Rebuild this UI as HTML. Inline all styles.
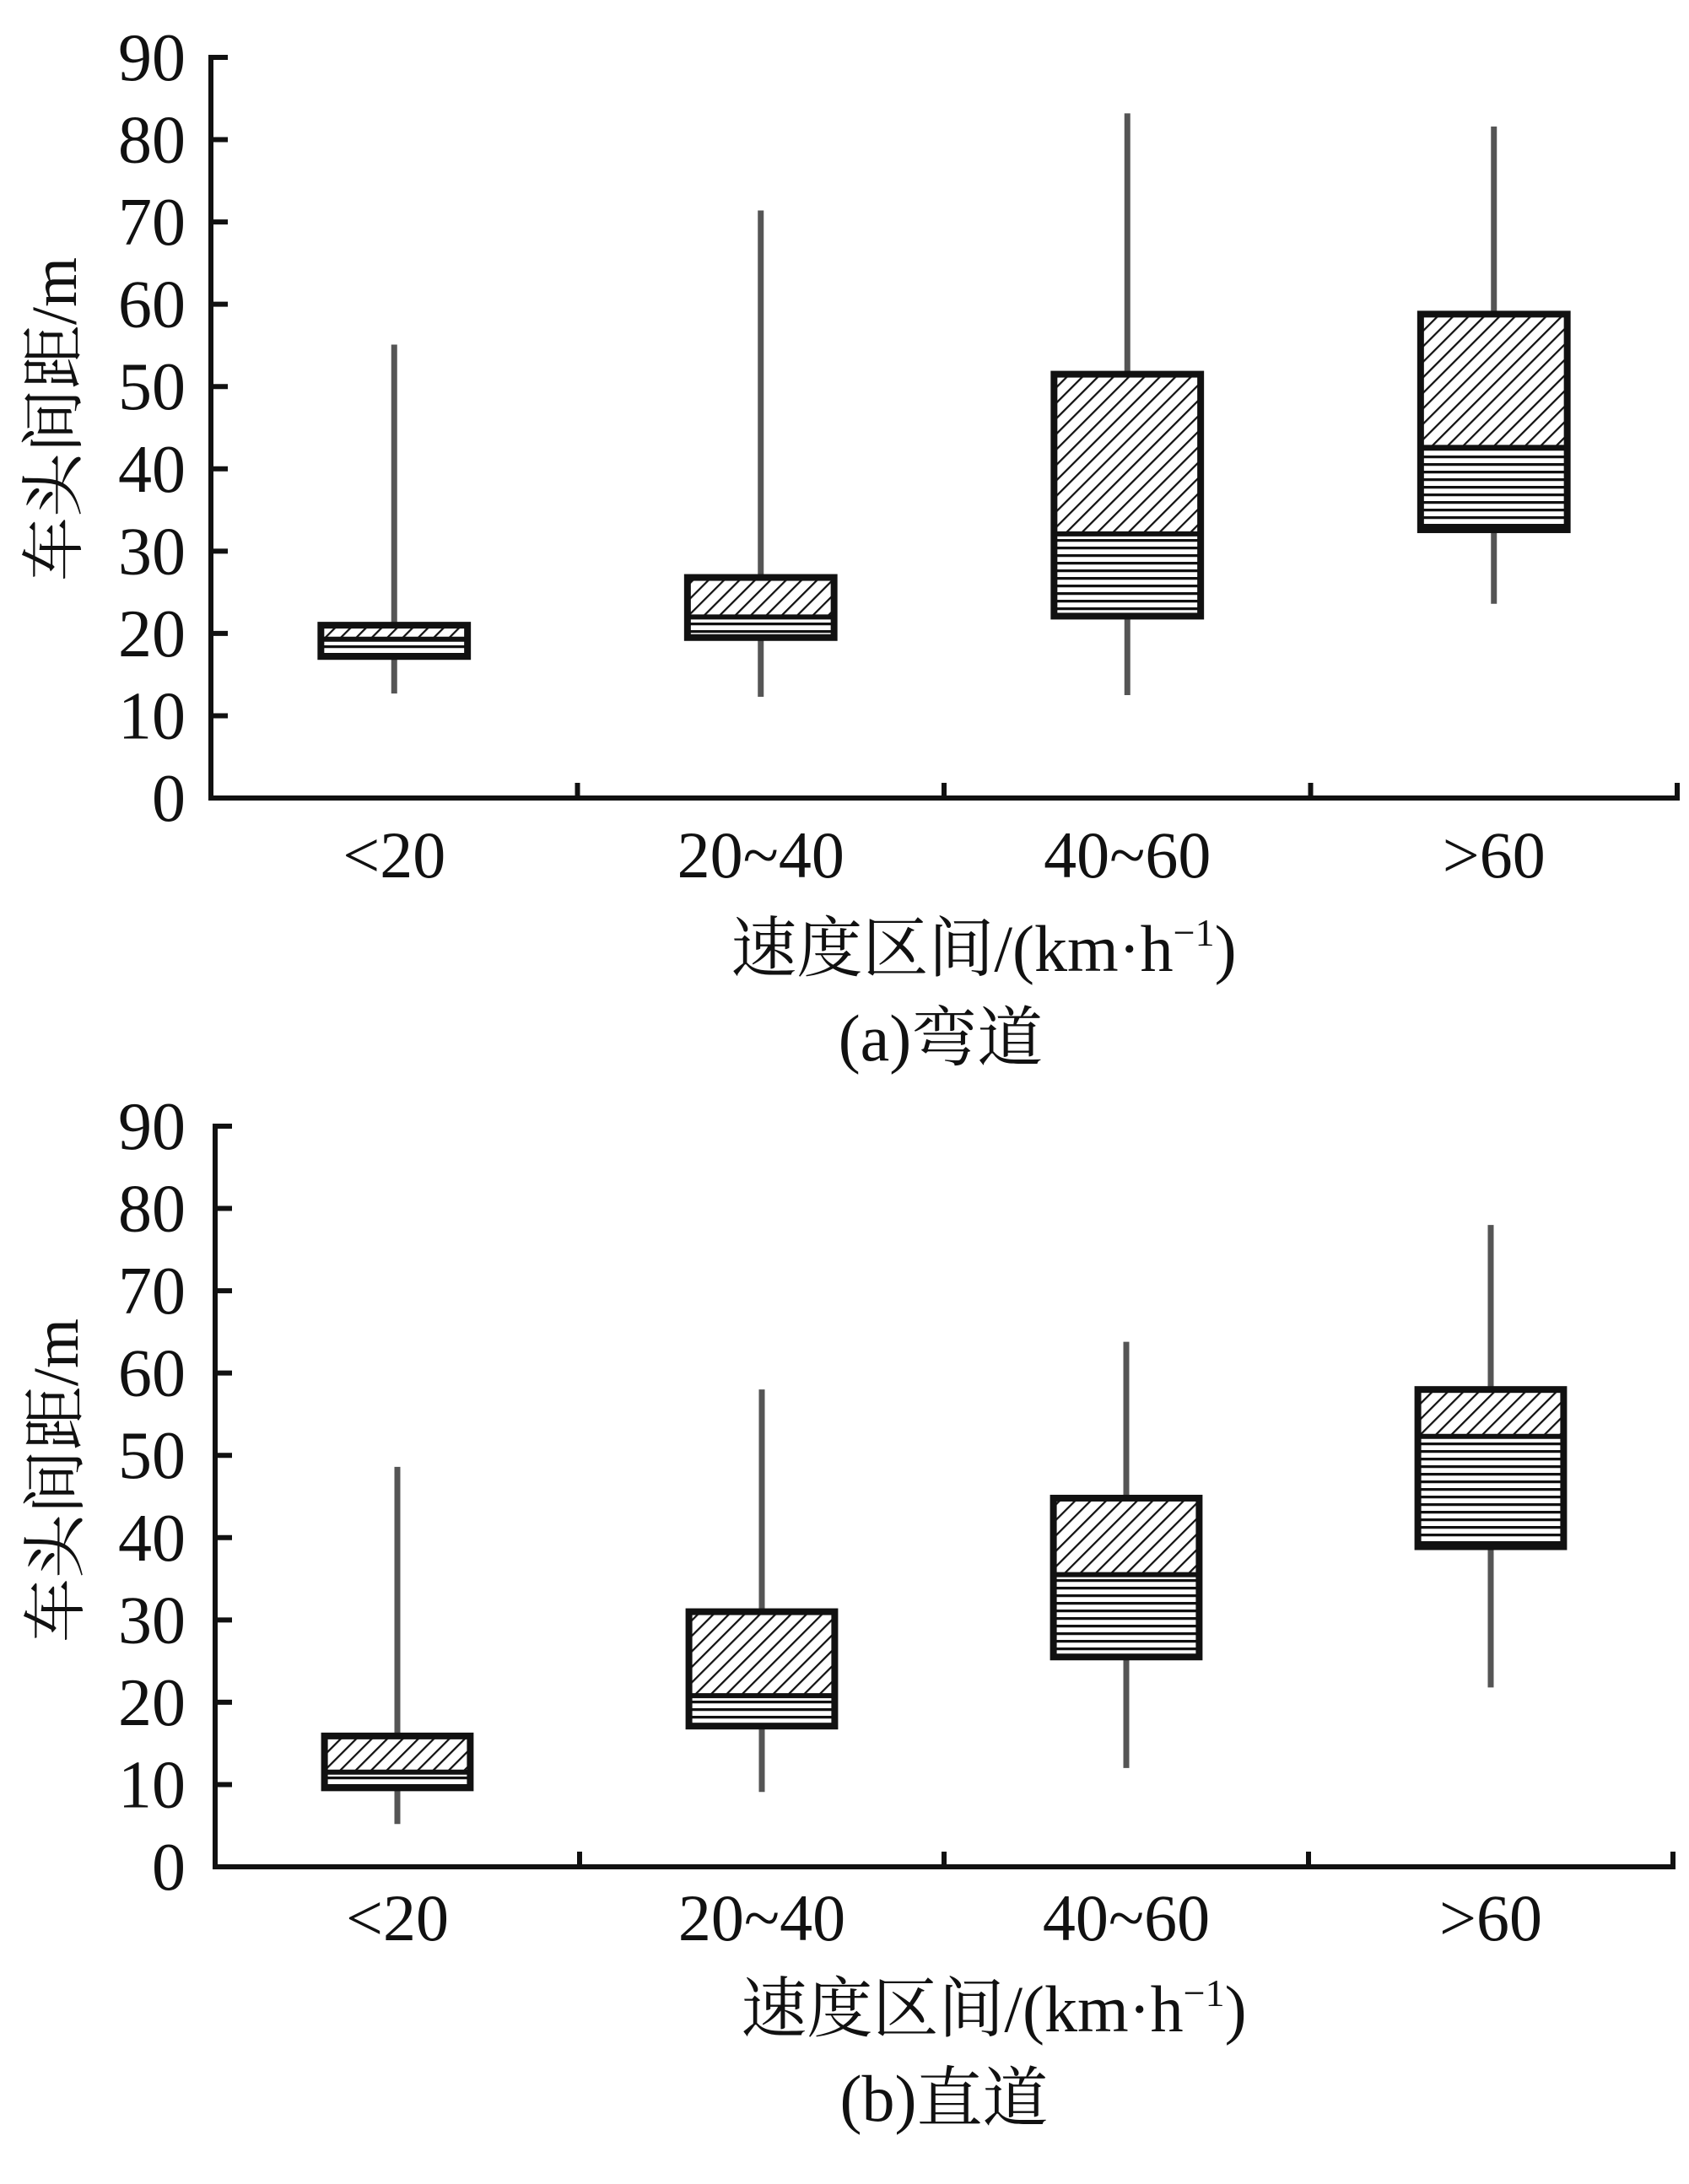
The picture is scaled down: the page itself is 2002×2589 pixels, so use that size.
<!DOCTYPE html>
<html><head><meta charset="utf-8"><style>
html,body{margin:0;padding:0;background:#fff;}
svg{display:block;}
text{font-family:"Liberation Serif","Noto Serif CJK SC","Noto Sans CJK SC",serif;fill:#111;}
</style></head><body>
<svg id="chart" width="2002" height="2589" viewBox="0 0 2002 2589" xmlns="http://www.w3.org/2000/svg">
<defs>
<pattern id="diag" patternUnits="userSpaceOnUse" width="13" height="13" patternTransform="rotate(45)">
<rect width="13" height="13" fill="#fff"/><line x1="0" y1="0" x2="0" y2="13" stroke="#111" stroke-width="4.5"/>
</pattern>
<pattern id="horiz" patternUnits="userSpaceOnUse" width="10" height="9">
<rect width="10" height="9" fill="#fff"/><line x1="0" y1="1.5" x2="10" y2="1.5" stroke="#111" stroke-width="3.5"/>
</pattern>
</defs>
</svg>
<script>
const categories = ["<20","20~40","40~60",">60"];
const yTicks = [0,10,20,30,40,50,60,70,80,90];
// curve (a)
const curveWhiskerLow = [12.7,12.3,12.5,23.6];
const curveQ1 = [17.2,19.5,22.1,32.6];
const curveMedian = [19.3,22.0,32.1,42.6];
const curveQ3 = [21.0,26.8,51.5,58.8];
const curveWhiskerHigh = [55.1,71.4,83.2,81.6];
// straight (b)
const straightWhiskerLow = [5.2,9.1,12.0,21.8];
const straightQ1 = [9.6,17.1,25.5,38.9];
const straightMedian = [11.5,20.8,35.5,52.3];
const straightQ3 = [15.9,31.0,44.8,58.0];
const straightWhiskerHigh = [48.6,58.0,63.8,78.0];

const NS = "http://www.w3.org/2000/svg";
const svg = document.getElementById("chart");
function mk(tag, attrs, parent){
  const e = document.createElementNS(NS, tag);
  for (const k in attrs) e.setAttribute(k, attrs[k]);
  (parent||svg).appendChild(e);
  return e;
}

function panel(cfg){
  const g = mk("g", {});
  
  
  const yScale = v => cfg.y0 - (v/90)*(cfg.y0 - cfg.y90);
  const gw = (cfg.xR - cfg.xL)/categories.length;
  const xCenter = i => cfg.xL + gw*(i+0.5);
  yTicks.forEach(t => {
    const y = yScale(t);
    const tk = mk("line", {x1:cfg.xL, x2:cfg.xL+20, y1:y, y2:y, stroke:"#111", "stroke-width":6}, g);
    
    
    const lb = mk("text", {x:220, y:y+27, "font-size":80, "text-anchor":"end"}, g);
    lb.textContent = t;
    
    
  });
  for (let i=1;i<=categories.length;i++){
    const x = cfg.xL + gw*i;
    const tk = mk("line", {x1:x, x2:x, y1:cfg.y0, y2:cfg.y0-18, stroke:"#111", "stroke-width":6}, g);
    
    
  }
  const ax = mk("path", {d:`M${cfg.xL} ${cfg.y90-3} V${cfg.y0} H${cfg.xR+3}`, fill:"none", stroke:"#111", "stroke-width":6}, g);
  
  
  const bw = gw*0.4;
  categories.forEach((c,i) => {
    const xc = xCenter(i);
    const wh = mk("line", {x1:xc, x2:xc, y1:yScale(cfg.wHigh[i]), y2:yScale(cfg.wLow[i]), stroke:"#555", "stroke-width":7}, g);
    
    
    const yq3 = yScale(cfg.q3[i]), ym = yScale(cfg.med[i]), yq1 = yScale(cfg.q1[i]);
    const up = mk("rect", {x:xc-bw/2, y:yq3, width:bw, height:ym-yq3, fill:"url(#diag)"}, g);
    
    
    const lo = mk("rect", {x:xc-bw/2, y:ym, width:bw, height:yq1-ym, fill:"url(#horiz)"}, g);
    
    
    const md = mk("line", {x1:xc-bw/2, x2:xc+bw/2, y1:ym, y2:ym, stroke:"#111", "stroke-width":6}, g);
    
    
    const ol = mk("rect", {x:xc-bw/2, y:yq3, width:bw, height:yq1-yq3, fill:"none", stroke:"#111", "stroke-width":8}, g);
    
    
    const cl = mk("text", {x:xc, y:cfg.catY, "font-size":78, "text-anchor":"middle"}, g);
    cl.textContent = c;
    
    
  });
  const yt = mk("text", {x:0, y:0, "font-size":76, "text-anchor":"middle", transform:`translate(${cfg.ytX},${cfg.ytY}) rotate(-90)`}, g);
  yt.textContent = "车头间距/m";
  
  
  const xt = mk("text", {x:cfg.xtX, y:cfg.xtY, "font-size":78, "text-anchor":"middle"}, g);
  
  
  const t1 = mk("tspan", {}, xt); t1.textContent = "速度区间/(km·h";
  const t2 = mk("tspan", {dy:-30, "font-size":46}, xt); t2.textContent = "−1";
  const t3 = mk("tspan", {dy:30}, xt); t3.textContent = ")";
  const cp = mk("text", {x:cfg.cpX, y:cfg.cpY, "font-size":78, "text-anchor":"middle"}, g);
  cp.textContent = cfg.caption;
  
  
}

panel({name:"panel-a-curve", y90:68, y0:946, xL:250, xR:1988, catY:1040, ytX:90, ytY:497, xtX:1166, xtY:1151, cpX:1115, cpY:1257, caption:"(a)弯道",
  wLow:curveWhiskerLow, q1:curveQ1, med:curveMedian, q3:curveQ3, wHigh:curveWhiskerHigh});
panel({name:"panel-b-straight", y90:1335, y0:2213, xL:255, xR:1983, catY:2300, ytX:92, ytY:1755, xtX:1178, xtY:2408, cpX:1119, cpY:2514, caption:"(b)直道",
  wLow:straightWhiskerLow, q1:straightQ1, med:straightMedian, q3:straightQ3, wHigh:straightWhiskerHigh});
</script>
</body></html>
